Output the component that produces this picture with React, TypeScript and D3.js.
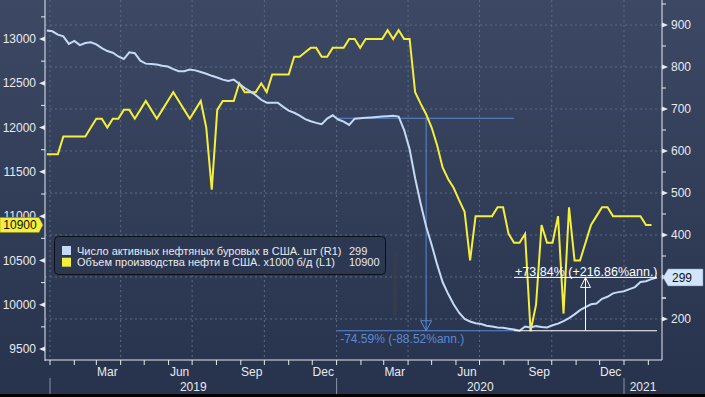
import React from 'react';
import * as d3 from 'd3';

const W = 705;
const H = 397;

// weekly observations, first one on 28 Dec 2018
const firstWeek = new Date(2018, 11, 28);

// US crude production, x1000 b/d (left axis)
const productionL1 = [
  11700, 11700, 11700, 11900, 11900, 11900, 11900, 11900, 12000, 12100,
  12100, 12000, 12100, 12100, 12200, 12200, 12100, 12200, 12300, 12200,
  12100, 12200, 12300, 12400, 12300, 12200, 12100, 12200, 12300, 12000,
  11300, 12200, 12300, 12300, 12300, 12500, 12400, 12400, 12400, 12500,
  12400, 12600, 12600, 12600, 12600, 12800, 12800, 12850, 12900, 12900,
  12800, 12800, 12900, 12900, 12900, 13000, 13000, 12900, 13000, 13000,
  13000, 13000, 13100, 13000, 13100, 13000, 13000, 12400, 12270, 12150,
  12000, 11800, 11550, 11420, 11320, 11180, 11050, 10500, 11000, 11000,
  11000, 11000, 11100, 11100, 10800, 10700, 10700, 10800, 9700, 10000,
  10900, 10700, 10700, 11000, 9900, 11100, 10500, 10500, 10700, 10900,
  11000, 11100, 11100, 11000, 11000, 11000, 11000, 11000, 11000, 10900,
  10900,
];

// active US oil rigs (right axis)
const rigsR1 = [
  887, 885, 877, 873, 855, 862, 852, 857, 859, 854,
  845, 838, 834, 825, 819, 835, 833, 815, 808, 807,
  806, 803, 801, 795, 790, 790, 794, 792, 788, 784,
  779, 775, 770, 767, 770, 760, 750, 742, 733, 722,
  715, 715, 715, 705, 696, 691, 684, 676, 671, 667,
  664, 677, 685, 675, 670, 662, 677, 678, 679, 680,
  681, 682, 683, 684, 682, 650, 604, 535, 475, 420,
  377, 330, 288, 260, 235, 215, 200, 194, 190, 188,
  184, 182, 180, 179, 177, 175, 172, 182, 180, 183,
  181, 180, 185, 189, 195, 202, 211, 221, 228, 235,
  237, 248, 253, 261, 264, 266, 271, 276, 288, 290,
  295, 299,
];

const leftTicks = [9500, 10000, 10500, 11000, 11500, 12000, 12500, 13000];
const rightTicks = [200, 300, 400, 500, 600, 700, 800, 900];
const monthLabels = ['Mar', 'Jun', 'Sep', 'Dec'];
const yearLabels = ['2019', '2020', '2021'];

const legendNames = [
  'Число активных нефтяных буровых в США. шт (R1)',
  'Объем производства нефти в США. x1000 б/д (L1)',
];

// drawdown / rebound studies on the rig count
const peakDate = new Date(2020, 0, 3);
const troughDate = new Date(2020, 7, 14);
const lastDate = new Date(2021, 1, 12);
const peakLevel = 678;
const troughLevel = 172;
const lastLevel = 299;
const dropText = '-74.59% (-88.52%ann.)';
const riseText = '+73.84% (+216.86%ann.)';

const weekDate = (i: number) => d3.timeDay.offset(firstWeek, i * 7);

const font = 'Liberation Sans, Arial, sans-serif';
const axisCol = '#e6e9ee';
const textCol = '#e8eaee';
const gridCol = '#5d6a86';
const yellow = '#f4ef3c';
const blue = '#c5daf6';
const studyBlue = '#5b8ad6';

export default function App() {
  const plotL = 45;
  const plotR = 662;
  const plotB = 360;

  const x = d3.scaleTime()
    .domain([new Date(2019, 0, 1), new Date(2021, 0, 1)])
    .range([50, 624]);
  const yL = d3.scaleLinear().domain([9500, 13000]).range([349, 39]);
  const yR = d3.scaleLinear().domain([200, 900]).range([319, 25]);

  const prodLine = d3.line<number>()
    .x((_, i) => x(weekDate(i)))
    .y(d => yL(d));
  const rigLine = d3.line<number>()
    .x((_, i) => x(weekDate(i)))
    .y(d => yR(d));

  const quarterStarts = d3.timeMonth.every(3)!.range(new Date(2019, 0, 1), new Date(2021, 0, 2));
  const monthStarts = d3.timeMonth.range(new Date(2019, 0, 1), new Date(2021, 2, 1));
  const years = [2019, 2020, 2021];

  const leftMinor = d3.pairs(leftTicks).map(([a, b]) => (a + b) / 2).concat([13250]);
  const rightMinor = d3.pairs(rightTicks).map(([a, b]) => (a + b) / 2).concat([250, 950]);

  const xPeak = x(peakDate);
  const xTrough = x(troughDate);
  const xLast = x(lastDate);
  const xDropMid = (xPeak + xTrough) / 2;
  const xRiseMid = (xTrough + xLast) / 2;
  const yPeak = yR(peakLevel);
  const yTrough = yR(troughLevel);
  const yLast = yR(lastLevel);

  const lastProd = productionL1[productionL1.length - 1];
  const lastRigs = rigsR1[rigsR1.length - 1];

  return (
    <svg width={W} height={H} style={{ position: 'absolute', left: 0, top: 0, display: 'block' }}
      fontFamily={font}>
      <defs>
        <linearGradient id="bg" x1="0" y1="0" x2="0" y2="1">
          <stop offset="0" stopColor="#3d4964" />
          <stop offset="1" stopColor="#27324c" />
        </linearGradient>
        <clipPath id="aboveTag">
          <rect x={0} y={0} width={plotL} height={yL(lastProd) - 7.5} />
          <rect x={0} y={yL(lastProd) + 7.5} width={plotL} height={H} />
        </clipPath>
      </defs>
      <rect width={W} height={H} fill="url(#bg)" />
      <rect y={H - 3} width={W} height={3} fill="#000" />

      {/* grid */}
      {rightTicks.map(t => (
        <line key={'hg' + t} x1={plotL} x2={plotR} y1={yR(t)} y2={yR(t)}
          stroke={gridCol} strokeDasharray="2,3" />
      ))}
      {quarterStarts.map(d => (
        <line key={'vg' + d.getTime()} x1={x(d)} x2={x(d)} y1={0} y2={plotB}
          stroke={gridCol} strokeDasharray="2,3" />
      ))}

      {/* faint artifacts in the plot */}
      <rect x={393} y={253} width={4} height={62} fill="#3a3e49" opacity={0.75} />
      <line x1={418} x2={418} y1={237} y2={300} stroke="#333a4a" opacity={0.6} />

      {/* axes frame */}
      <line x1={plotL} x2={plotL} y1={0} y2={plotB + 1} stroke={axisCol} />
      <line x1={plotR} x2={plotR} y1={0} y2={plotB} stroke={axisCol} />
      <line x1={plotL} x2={plotR} y1={plotB} y2={plotB} stroke={axisCol} />

      {/* left axis */}
      {leftMinor.map(t => (
        <line key={'lm' + t} x1={plotL - 4} x2={plotL} y1={yL(t)} y2={yL(t)} stroke={axisCol} />
      ))}
      {leftTicks.map(t => (
        <g key={'lt' + t}>
          <path d={`M${plotL},${yL(t) - 2.5}L${plotL - 6},${yL(t)}L${plotL},${yL(t) + 2.5}Z`} fill={axisCol} />
          <text x={36} y={yL(t)} dy="0.35em" textAnchor="end" fontSize={12} fill={textCol}
            clipPath={Math.abs(yL(t) - yL(lastProd)) < 15 ? 'url(#aboveTag)' : undefined}>{t}</text>
        </g>
      ))}

      {/* right axis */}
      {rightMinor.map(t => (
        <line key={'rm' + t} x1={plotR} x2={plotR + 4} y1={yR(t)} y2={yR(t)} stroke={axisCol} />
      ))}
      {rightTicks.map(t => (
        <g key={'rt' + t}>
          <path d={`M${plotR},${yR(t) - 2.5}L${plotR + 6},${yR(t)}L${plotR},${yR(t) + 2.5}Z`} fill={axisCol} />
          <text x={671} y={yR(t)} dy="0.35em" fontSize={12} fill={textCol}>{t}</text>
        </g>
      ))}

      {/* bottom axis */}
      {monthStarts.filter(d => x(d) <= plotR).map(d => (
        <line key={'mt' + d.getTime()} x1={x(d)} x2={x(d)} y1={plotB} y2={plotB + 5} stroke={axisCol} />
      ))}
      {years.map(yr => monthLabels.map((m, k) => {
        const mid = new Date(yr, 2 + k * 3, 15);
        if (x(mid) > plotR) return null;
        return (
          <text key={m + yr} x={x(mid)} y={372} dy="0.35em" textAnchor="middle" fontSize={12} fill={textCol}>{m}</text>
        );
      }))}
      {years.map((yr, k) => {
        const x0 = x(new Date(yr, 0, 1));
        const x1 = Math.min(x(new Date(yr + 1, 0, 1)), plotR);
        return (
          <g key={'yr' + yr}>
            <line x1={x0} x2={x0} y1={378} y2={394} stroke="#8a93a6" />
            <text x={(x0 + x1) / 2} y={387} dy="0.35em" textAnchor="middle" fontSize={12} fill={textCol}>{yearLabels[k]}</text>
          </g>
        );
      })}

      {/* drawdown study (blue) */}
      <g stroke={studyBlue} fill="none">
        <line x1={xPeak} x2={xTrough} y1={yPeak} y2={yPeak} />
        <line x1={xPeak - 1} x2={xTrough} y1={yTrough} y2={yTrough} />
        <line x1={xDropMid} x2={xDropMid} y1={yPeak} y2={yTrough} />
        <path d={`M${xDropMid - 5.5},${yTrough - 10}L${xDropMid + 5.5},${yTrough - 10}L${xDropMid},${yTrough}Z`} />
      </g>
      <text x={xPeak + 2} y={yTrough + 8} dy="0.35em" fontSize={12} fill={studyBlue}>{dropText}</text>

      {/* series */}
      <path d={prodLine(productionL1) || ''} fill="none" stroke={yellow} strokeWidth={2} />
      <path d={rigLine(rigsR1) || ''} fill="none" stroke={blue} strokeWidth={2} />

      {/* rebound study (white) */}
      <g stroke="#ffffff" fill="none">
        <line x1={xTrough} x2={xLast} y1={yTrough} y2={yTrough} />
        <line x1={xTrough} x2={xLast} y1={yLast} y2={yLast} />
        <line x1={xRiseMid} x2={xRiseMid} y1={yTrough} y2={yLast} />
        <path d={`M${xRiseMid - 5},${yLast + 10}L${xRiseMid + 5},${yLast + 10}L${xRiseMid},${yLast}Z`} />
      </g>
      <text x={xTrough + 1} y={yLast - 6} dy="0.35em" fontSize={12.5} fill="#ffffff">{riseText}</text>

      {/* legend */}
      <rect x={54.5} y={236.5} width={331} height={38} rx={4} fill="#2c3752" stroke="#0c0f16" />
      {[blue, yellow].map((c, i) => (
        <g key={'lg' + i}>
          <rect x={62} y={246 + i * 11.7} width={9} height={9} fill={c} />
          <text x={77} y={250.7 + i * 11.7} dy="0.35em" fontSize={11} fill={textCol}>{legendNames[i]}</text>
          <text x={349} y={250.7 + i * 11.7} dy="0.35em" fontSize={11} fill={textCol}>{i === 0 ? lastRigs : lastProd}</text>
        </g>
      ))}

      {/* last value tags */}
      <path d={`M0,${yL(lastProd) - 7.5}H39L43,${yL(lastProd)}L39,${yL(lastProd) + 7.5}H0Z`} fill={yellow} stroke="#8a8620" strokeWidth={0.5} />
      <text x={20} y={yL(lastProd)} dy="0.36em" textAnchor="middle" fontSize={12} fill="#111">{lastProd}</text>
      <path d={`M${plotR + 1},${yR(lastRigs)}L${plotR + 6},${yR(lastRigs) - 8.5}H703V${yR(lastRigs) + 8.5}H${plotR + 6}Z`} fill="#d3e5fd" stroke="#7d93b3" strokeWidth={0.5} />
      <text x={672} y={yR(lastRigs)} dy="0.36em" fontSize={12} fill="#111">{lastRigs}</text>
    </svg>
  );
}
